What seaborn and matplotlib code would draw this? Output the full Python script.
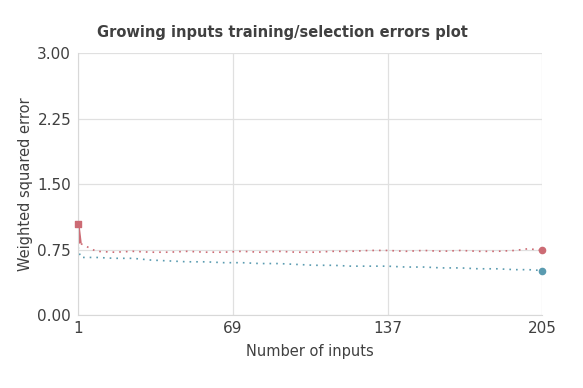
import numpy as np
import pandas as pd
import matplotlib
matplotlib.use("Agg")
import matplotlib.pyplot as plt
import seaborn as sns

# sampled read-off of the two error curves
inputs = [1, 2, 9, 17, 25, 33, 41, 49, 57, 65, 73, 81, 89, 97, 105, 113,
          121, 129, 137, 145, 153, 161, 169, 177, 185, 193, 199, 205]
training_error = [1.04, 0.82, 0.73, 0.72, 0.73, 0.72, 0.72, 0.73, 0.72, 0.72,
                  0.73, 0.72, 0.73, 0.72, 0.72, 0.73, 0.73, 0.74, 0.74, 0.73,
                  0.74, 0.73, 0.74, 0.73, 0.73, 0.74, 0.76, 0.74]
selection_error = [0.78, 0.66, 0.66, 0.65, 0.65, 0.63, 0.62, 0.61, 0.61, 0.60,
                   0.60, 0.59, 0.59, 0.58, 0.57, 0.57, 0.56, 0.56, 0.56, 0.55,
                   0.55, 0.54, 0.54, 0.53, 0.53, 0.52, 0.52, 0.51]

df = pd.DataFrame({"inputs": inputs * 2,
                   "error": training_error + selection_error,
                   "series": ["Training"] * len(inputs) + ["Selection"] * len(inputs)})

sns.set_style("white")
plt.rcParams['font.family'] = ['DejaVu Sans']

red = "#cc6b74"
blue = "#5a9bb0"

fig = plt.figure(figsize=(5.83, 3.88), dpi=100)
ax = fig.add_axes([0.134, 0.188, 0.796, 0.675])

sns.lineplot(data=df, x="inputs", y="error", hue="series",
             palette={"Training": red, "Selection": blue},
             linestyle=(0, (1, 3)), linewidth=1.2, legend=False, ax=ax)

# end point markers
for vals, c in [(training_error, red), (selection_error, blue)]:
    ax.scatter([inputs[-1]], [vals[-1]], color=c, s=20, zorder=5, clip_on=False)
ax.plot(inputs[:2], training_error[:2], color=red, lw=2, solid_capstyle="butt")
ax.scatter([inputs[0]], [training_error[0]], color=red, s=14, marker="s",
           zorder=5, clip_on=False)

ax.set_xlim(1, 205)
ax.set_ylim(0, 3)
ax.set_xticks([1, 69, 137, 205])
ax.set_yticks([0, 0.75, 1.5, 2.25, 3.0])
ax.set_yticklabels(["0.00", "0.75", "1.50", "2.25", "3.00"])
ax.grid(True, color="#e0e0e0", lw=0.9)
for s in ["top", "right"]:
    ax.spines[s].set_visible(False)
for s in ["left", "bottom"]:
    ax.spines[s].set_color("#d8d8d8")
ax.tick_params(axis="both", colors="#d8d8d8", labelcolor="#404040",
               labelsize=11, length=4, pad=1)
ax.tick_params(axis="x", length=0, pad=4)

ax.set_xlabel("Number of inputs", fontsize=10.5, color="#404040", labelpad=6)
ax.set_ylabel("Weighted squared error", fontsize=10.5, color="#404040", labelpad=3)
fig.text(0.485, 0.897, "Growing inputs training/selection errors plot",
         fontsize=10.5, fontweight="bold", color="#404040", ha="center", va="bottom")

fig.savefig("out.png", dpi=100)
